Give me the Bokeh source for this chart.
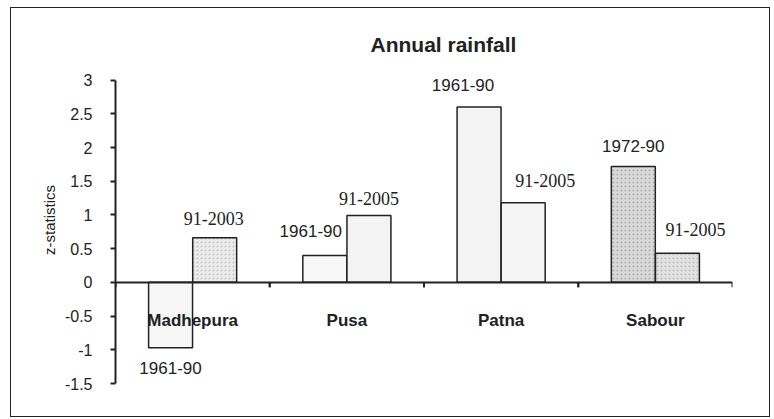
import math
from bokeh.plotting import figure
from bokeh.models import (ColumnDataSource, FactorRange, Range1d, FixedTicker,
                          CategoricalAxis)
from bokeh.transform import dodge
from bokeh.core.properties import value
from bokeh.embed import file_html
from bokeh.resources import INLINE

# ---- data ----
stations = ["Madhepura", "Pusa", "Patna", "Sabour"]
early_vals = [-0.97, 0.40, 2.60, 1.72]
late_vals = [0.66, 0.99, 1.18, 0.43]
early_periods = ["1961-90", "1961-90", "1961-90", "1972-90"]
late_periods = ["91-2003", "91-2005", "91-2005", "91-2005"]
y_ticks = [-1.5, -1, -0.5, 0, 0.5, 1, 1.5, 2, 2.5, 3]
y_tick_labels = ["-1.5", "-1", "-0.5", "0", "0.5", "1", "1.5", "2", "2.5", "3"]

# ---- styles (fills & label nudges) ----
early_fill = ["#f6f6f6", "#f8f8f8", "#f3f3f3", "#dadada"]
late_fill = ["#ebebeb", "#f3f3f3", "#f5f5f5", "#e2e2e2"]
early_hatch = [" ", " ", " ", "."]
late_hatch = [".", " ", " ", "."]
early_dx = [0, -14, -16, 0]
early_dy = [20, -24, -22, -20]
late_dx = [-1, 0, 22, 18]
late_dy = [-19, -17, -22, -24]

src = ColumnDataSource(dict(
    station=stations, early=early_vals, late=late_vals,
    ep=early_periods, lp=late_periods,
    efill=early_fill, lfill=late_fill, eh=early_hatch, lh=late_hatch,
    edx=early_dx, edy=early_dy, ldx=late_dx, ldy=late_dy,
    zero=[0] * len(stations),
))

p = figure(x_range=FactorRange(*stations), y_range=Range1d(-1.5, 3.35),
           width=760, height=410, output_backend="svg", toolbar_location=None,
           min_border_left=104, min_border_right=39, min_border_top=48,
           min_border_bottom=35, x_axis_location=None,
           title="Annual rainfall")
p.styles = {"border": "1px solid #222", "margin-left": "10px", "margin-top": "7px"}
p.outline_line_color = None
p.grid.visible = False
p.background_fill_color = "white"

p.title.align = "left"
p.title.text_font = "Liberation Sans"
p.title.text_font_size = "21px"
p.title.text_font_style = "bold"
p.title.text_color = "#222"
p.title.offset = 255
p.title.standoff = 2

bw = 0.285
off = 0.143
p.vbar(x=dodge("station", -off, range=p.x_range), top="early", bottom=0, width=bw,
       source=src, fill_color="efill", line_color="#222", line_width=1.5,
       hatch_pattern="eh", hatch_color="#777", hatch_alpha=0.45, hatch_scale=4,
       hatch_weight=1)
p.vbar(x=dodge("station", off, range=p.x_range), top="late", bottom=0, width=bw,
       source=src, fill_color="lfill", line_color="#222", line_width=1.5,
       hatch_pattern="lh", hatch_color="#777", hatch_alpha=0.35, hatch_scale=4,
       hatch_weight=1)

p.text(x=dodge("station", -off, range=p.x_range), y="early", text="ep", source=src,
       x_offset="edx", y_offset="edy", text_align="center", text_baseline="middle",
       text_font=value("Liberation Sans"), text_font_size="17px", text_color="#222")
p.text(x=dodge("station", off, range=p.x_range), y="late", text="lp", source=src,
       x_offset="ldx", y_offset="ldy", text_align="center", text_baseline="middle",
       text_font=value("Liberation Serif"), text_font_size="18px", text_color="#222")

# y axis
ya = p.yaxis[0]
ya.ticker = FixedTicker(ticks=y_ticks)
ya.bounds = (-1.5, 3)
ya.major_label_overrides = {t: l for t, l in zip(y_ticks, y_tick_labels)}
ya.minor_tick_line_color = None
ya.major_tick_out = 5
ya.major_tick_in = 0
ya.axis_line_width = 2
ya.axis_line_color = "#222"
ya.major_tick_line_width = 2
ya.major_tick_line_color = "#222"
ya.major_label_text_font = "Liberation Sans"
ya.major_label_text_font_size = "16px"
ya.major_label_text_color = "#222"
ya.major_label_standoff = 18
ya.axis_label = "z-statistics"
ya.axis_label_text_font = "Liberation Sans"
ya.axis_label_text_font_size = "15px"
ya.axis_label_text_font_style = "normal"
ya.axis_label_text_color = "#222"
ya.axis_label_standoff = 4

# x axis at zero: category labels
xa = CategoricalAxis(fixed_location=0)
xa.axis_line_width = 2
xa.axis_line_color = "#222"
xa.major_tick_line_color = None
xa.major_label_text_font = "Liberation Sans"
xa.major_label_text_font_size = "17px"
xa.major_label_text_font_style = "bold"
xa.major_label_text_color = "#222"
xa.major_label_standoff = 23
p.add_layout(xa, "below")

# boundary tick marks between categories (downward, 5px)
for side in (-0.5, 0.5):
    p.ray(x=dodge("station", side, range=p.x_range), y="zero", source=src,
          length=5, length_units="screen", angle=-math.pi / 2,
          line_color="#222", line_width=2)

open("out.html", "w").write(file_html(p, INLINE))
